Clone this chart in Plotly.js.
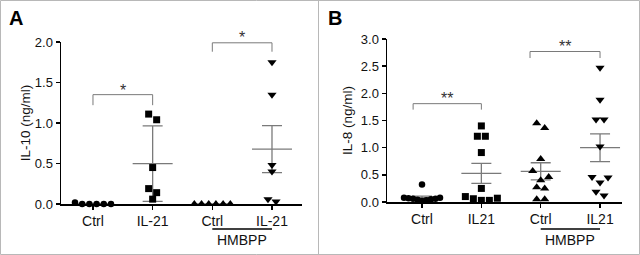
<!DOCTYPE html>
<html><head><meta charset="utf-8">
<script src="https://cdn.plot.ly/plotly-3.0.1.min.js"></script>
<style>html,body{margin:0;padding:0;background:#fff}#chart{width:640px;height:255px}</style>
</head><body><div id="chart"></div>
<script>
// ---------------- data ----------------
const catsA = ['Ctrl', 'IL-21', 'Ctrl', 'IL-21'];
const a_ctrl       = [0, 0, 0, 0, 0, 0.02];
const a_il21       = [1.11, 1.04, 0.45, 0.19, 0.14, 0.06];
const a_hmbpp_ctrl = [0, 0, 0, 0, 0, 0];
const a_hmbpp_il21 = [1.75, 1.35, 0.48, 0.40, 0.06, 0.03];
const errTypeA = ['sem', 'sd', 'sem', 'sem'];

const catsB = ['Ctrl', 'IL21', 'Ctrl', 'IL21'];
const b_ctrl       = [0.32, 0.08, 0.07, 0.06, 0.05, 0.03, 0.02, 0.04, 0.06, 0.08];
const b_il21       = [1.40, 1.21, 1.21, 0.91, 0.25, 0.10, 0.07, 0.06, 0.03, 0.03];
const b_hmbpp_ctrl = [1.45, 1.36, 0.79, 0.57, 0.46, 0.40, 0.27, 0.25, 0.05, 0.05];
const b_hmbpp_il21 = [2.47, 1.88, 1.52, 1.52, 1.02, 0.46, 0.45, 0.36, 0.19, 0.12];
const errTypeB = ['sem', 'sem', 'sem', 'sem'];

const yTitleA = 'IL-10 (ng/ml)';
const yTitleB = 'IL-8 (ng/ml)';
const yTicksA = [0, 0.5, 1.0, 1.5, 2.0];
const yTicksB = [0, 0.5, 1.0, 1.5, 2.0, 2.5, 3.0];
const groupLabel = 'HMBPP';
const panelLetters = ['A', 'B'];
// significance brackets: [from category, to category, stars]
const sigA = [[1, 2, '*'], [3, 4, '*']];
const sigB = [[1, 2, '**'], [3, 4, '**']];

// ---------------- geometry / style ----------------
const W = 640, H = 255;
const FONT = 'Liberation Sans, Arial, sans-serif';
const gA = {x0: 61, x1: 302, y0: 204, y1: 42, xr: [0.464, 4.503], yr: [0, 2.0], xa: 'x', ya: 'y', standoff: 1};
const gB = {x0: 387, x1: 622, y0: 202, y1: 39, xr: [0.41, 4.37], yr: [0, 3.0], xa: 'x2', ya: 'y2', standoff: 5};
const symbols = ['circle', 'square', 'triangle-up', 'triangle-down'];
const sizes = [6.5, 7, 8, 8];
const GRAY = '#7a7a7a';
const TXT = '#111';

function pxX(g) { return (g.x1 - g.x0) / (g.xr[1] - g.xr[0]); }
function pxY(g) { return (g.y0 - g.y1) / (g.yr[1] - g.yr[0]); }
// data y -> paper fraction (margins are zero, so paper == whole figure)
function paperY(g, v) { return 1 - (g.y0 - (v - g.yr[0]) * pxY(g)) / H; }

// scatter-dot-plot style horizontal spreading of close values
function spread(vals, center, g) {
  const px = pxX(g), py = pxY(g);
  const idx = vals.map((v, i) => i).sort((a, b) => vals[b] - vals[a]);
  const clusters = [];
  let cur = [idx[0]];
  for (let k = 1; k < idx.length; k++) {
    const prev = cur[cur.length - 1];
    if ((vals[prev] - vals[idx[k]]) * py < 6.2) cur.push(idx[k]);
    else { clusters.push(cur); cur = [idx[k]]; }
  }
  clusters.push(cur);
  const xs = new Array(vals.length);
  clusters.forEach(c => {
    const n = c.length;
    const s = n > 1 ? Math.min(8, 36 / (n - 1)) : 0;
    const asc = c.slice().sort((a, b) => vals[a] - vals[b]);
    const slots = [];
    for (let j = 0; j < n; j++) slots.push((j - (n - 1) / 2) * s);
    slots.sort((p, q) => (Math.abs(p) - Math.abs(q)) || (q - p));
    asc.forEach((id, j) => { xs[id] = center + slots[j] / px; });
  });
  return xs;
}

function stats(v, type) {
  const n = v.length;
  const m = v.reduce((a, b) => a + b, 0) / n;
  const sd = Math.sqrt(v.reduce((a, b) => a + (b - m) * (b - m), 0) / (n - 1));
  return {m: m, e: type === 'sd' ? sd : sd / Math.sqrt(n)};
}

const traces = [];
const shapes = [];
const annotations = [];

function panel(groups, errTypes, g) {
  const half = 20 / pxX(g);
  groups.forEach((vals, i) => {
    const c = i + 1;
    const st = stats(vals, errTypes[i]);
    traces.push({x: [c - half, c + half], y: [st.m, st.m], mode: 'lines', xaxis: g.xa, yaxis: g.ya,
      line: {color: GRAY, width: 1.3}, hoverinfo: 'skip', showlegend: false, cliponaxis: false});
    if (st.e > 0.005) {
      traces.push({x: [c], y: [st.m], mode: 'markers', xaxis: g.xa, yaxis: g.ya,
        marker: {size: 1, color: 'rgba(0,0,0,0)'}, hoverinfo: 'skip', showlegend: false, cliponaxis: false,
        error_y: {type: 'data', array: [st.e], visible: true, color: GRAY, thickness: 1.3, width: 10}});
    }
  });
  groups.forEach((vals, i) => {
    traces.push({x: spread(vals, i + 1, g), y: vals, mode: 'markers', xaxis: g.xa, yaxis: g.ya,
      marker: {symbol: symbols[i], size: sizes[i], color: '#000', line: {width: 0}},
      showlegend: false, cliponaxis: false, hoverinfo: 'y'});
  });
}

panel([a_ctrl, a_il21, a_hmbpp_ctrl, a_hmbpp_il21], errTypeA, gA);
panel([b_ctrl, b_il21, b_hmbpp_ctrl, b_hmbpp_il21], errTypeB, gB);

// brackets (heights in data units of each panel)
function bracket(g, xl, xr, ytop, ybot, ystar, txt) {
  shapes.push({type: 'path', xref: g.xa, yref: g.ya,
    path: 'M' + xl + ',' + ybot + ' L' + xl + ',' + ytop + ' L' + xr + ',' + ytop + ' L' + xr + ',' + ybot,
    line: {color: GRAY, width: 1}});
  annotations.push({xref: g.xa, yref: 'paper', x: (xl + xr) / 2, y: paperY(g, ystar), text: txt, showarrow: false,
    font: {family: FONT, size: 16, color: '#333'}, yanchor: 'middle'});
}
bracket(gA, sigA[0][0], sigA[0][1], 1.35, 1.22, 1.40, sigA[0][2]);
bracket(gA, sigA[1][0], sigA[1][1], 1.99, 1.88, 2.06, sigA[1][2]);
bracket(gB, sigB[0][0] - 0.15, sigB[0][1], 1.81, 1.70, 1.90, sigB[0][2]);
bracket(gB, sigB[1][0] - 0.18, sigB[1][1], 2.77, 2.65, 2.86, sigB[1][2]);

// HMBPP grouping line + label
[gA, gB].forEach(g => {
  shapes.push({type: 'line', xref: g.xa, yref: 'paper', x0: 3, x1: 4, y0: 1 - 229 / H, y1: 1 - 229 / H,
    line: {color: '#000', width: 1.3}});
  annotations.push({xref: g.xa, yref: 'paper', x: 3.5, y: 1 - 240 / H, text: groupLabel, showarrow: false,
    font: {family: FONT, size: 14, color: TXT}, yanchor: 'middle'});
});

// panel letters
annotations.push({xref: 'paper', yref: 'paper', x: 15.5 / W, y: 1 - 18 / H, text: '<b>' + panelLetters[0] + '</b>',
  showarrow: false, font: {family: FONT, size: 20, color: '#000'}, xanchor: 'center', yanchor: 'middle'});
annotations.push({xref: 'paper', yref: 'paper', x: 335 / W, y: 1 - 18 / H, text: '<b>' + panelLetters[1] + '</b>',
  showarrow: false, font: {family: FONT, size: 20, color: '#000'}, xanchor: 'center', yanchor: 'middle'});

// frame
const FR = '#b8b8b8';
shapes.push({type: 'rect', xref: 'paper', yref: 'paper', x0: 0.5 / W, x1: 1 - 0.5 / W, y0: 0.5 / H, y1: 1 - 0.5 / H,
  line: {color: FR, width: 1}});
shapes.push({type: 'line', xref: 'paper', yref: 'paper', x0: 318.5 / W, x1: 318.5 / W, y0: 0, y1: 1,
  line: {color: FR, width: 1}});

function xax(g, cats) {
  return {domain: [g.x0 / W, g.x1 / W], range: g.xr, anchor: g.ya, tickvals: [1, 2, 3, 4], ticktext: cats,
    showline: true, linecolor: '#000', linewidth: 1.5, ticks: 'outside', ticklen: 4, tickwidth: 1.5, tickcolor: '#000',
    showgrid: false, zeroline: false, fixedrange: true, tickfont: {family: FONT, size: 14, color: TXT}};
}
function yax(g, ticks, title) {
  return {domain: [1 - g.y0 / H, 1 - g.y1 / H], range: g.yr, anchor: g.xa, tickvals: ticks,
    ticktext: ticks.map(t => t.toFixed(1)), showline: true, linecolor: '#000', linewidth: 1.5,
    ticks: 'outside', ticklen: 4, tickwidth: 1.5, tickcolor: '#000', showgrid: false, zeroline: false,
    fixedrange: true, tickfont: {family: FONT, size: 13, color: TXT},
    title: {text: title, font: {family: FONT, size: 13.5, color: TXT}, standoff: g.standoff}};
}

const layout = {
  width: W, height: H, margin: {l: 0, r: 0, t: 0, b: 0}, paper_bgcolor: '#fff', plot_bgcolor: 'rgba(0,0,0,0)',
  xaxis: xax(gA, catsA), yaxis: yax(gA, yTicksA, yTitleA),
  xaxis2: xax(gB, catsB), yaxis2: yax(gB, yTicksB, yTitleB),
  shapes: shapes, annotations: annotations, showlegend: false, font: {family: FONT}
};
Plotly.newPlot('chart', traces, layout, {staticPlot: true, displayModeBar: false});
</script>
</body></html>
